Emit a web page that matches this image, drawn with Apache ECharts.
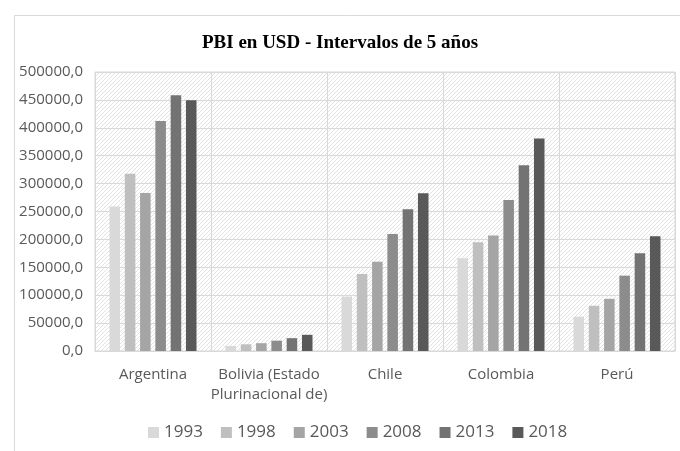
<!DOCTYPE html>
<html>
<head>
<meta charset="utf-8">
<script src="https://cdn.jsdelivr.net/npm/echarts@6/dist/echarts.min.js"></script>
<style>
  html, body { margin: 0; padding: 0; background: #fff; }
  #chart { width: 680px; height: 451px; }
</style>
</head>
<body>
<div id="chart"></div>
<script>
const paises = ['Argentina', 'Bolivia (Estado\nPlurinacional de)', 'Chile', 'Colombia', 'Perú']
const anios = ['1993', '1998', '2003', '2008', '2013', '2018']
// PBI por año, en el orden de paises
const pbi1993 = [259000, 9000, 97500, 166000, 61500]
const pbi1998 = [317500, 12000, 138000, 195000, 81000]
const pbi2003 = [283000, 14000, 160000, 207000, 93500]
const pbi2008 = [412000, 18500, 209500, 270500, 135000]
const pbi2013 = [458500, 23000, 254000, 333000, 175000]
const pbi2018 = [449500, 29000, 282500, 381000, 205500]
const valores = [pbi1993, pbi1998, pbi2003, pbi2008, pbi2013, pbi2018]
const colores = ['#d9d9d9', '#bfbfbf', '#a5a5a5', '#8c8c8c', '#737373', '#595959']

// fondo rayado del area del grafico
const trama = document.createElement('canvas')
trama.width = 4
trama.height = 4
const ctx = trama.getContext('2d')
ctx.fillStyle = '#ffffff'
ctx.fillRect(0, 0, 4, 4)
ctx.strokeStyle = '#e2e2e2'
ctx.lineWidth = 1
ctx.beginPath()
ctx.moveTo(0, 4)
ctx.lineTo(4, 0)
ctx.stroke()

const chart = echarts.init(document.getElementById('chart'))
const option = {
  backgroundColor: '#fff',
  animation: false,
  title: {
    text: 'PBI en USD - Intervalos de 5 años',
    left: 'center',
    top: 29,
    textStyle: {
      fontFamily: 'Liberation Serif',
      fontWeight: 'bold',
      fontSize: 19,
      color: '#000'
    }
  },
  graphic: [{
    type: 'rect',
    left: 12,
    top: 13,
    shape: { width: 700, height: 500 },
    style: { fill: 'none', stroke: '#d9d9d9', lineWidth: 1 },
    silent: true
  }],
  legend: {
    data: anios,
    bottom: 5,
    left: 143,
    icon: 'rect',
    itemWidth: 11,
    itemHeight: 11,
    itemGap: 18,
    textStyle: { fontFamily: 'Open Sans', fontSize: 17, color: '#595959' }
  },
  grid: {
    left: 95,
    right: 5,
    top: 72,
    bottom: 100,
    show: true,
    borderColor: '#d9d9d9',
    borderWidth: 1,
    backgroundColor: { image: trama, repeat: 'repeat' }
  },
  xAxis: {
    type: 'category',
    data: paises,
    axisTick: { show: false },
    axisLine: { lineStyle: { color: '#d9d9d9' } },
    splitLine: { show: true, interval: 0, lineStyle: { color: '#d9d9d9' } },
    axisLabel: {
      interval: 0,
      margin: 14,
      fontFamily: 'Open Sans',
      fontSize: 15,
      lineHeight: 20,
      color: '#595959'
    }
  },
  yAxis: {
    type: 'value',
    min: 0,
    max: 500000,
    interval: 50000,
    axisLine: { show: false },
    axisTick: { show: false },
    splitLine: { lineStyle: { color: '#d9d9d9' } },
    axisLabel: {
      margin: 12,
      fontFamily: 'Open Sans',
      fontSize: 15,
      color: '#595959',
      formatter: function(v) {
        return v.toFixed(1).replace('.', ',')
      }
    }
  },
  series: anios.map(function(anio, i) {
    return {
      name: anio,
      type: 'bar',
      data: valores[i],
      barCategoryGap: '25%',
      barGap: '45%',
      itemStyle: { color: colores[i] }
    }
  })
}
chart.setOption(option)
</script>
</body>
</html>
